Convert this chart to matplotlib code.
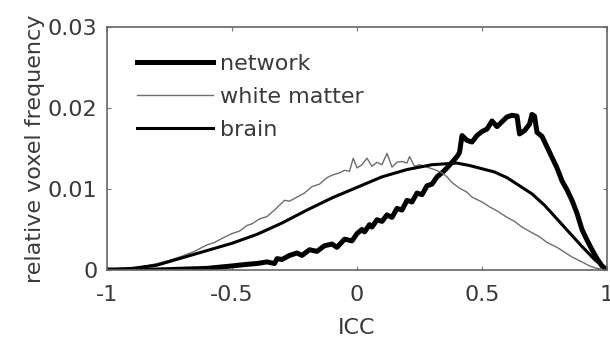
import matplotlib
matplotlib.use("Agg")
import matplotlib.pyplot as plt

# ICC histogram data
net_icc = [-1.00, -0.90, -0.80, -0.70, -0.60, -0.50, -0.44, -0.40, -0.36, -0.33,
           -0.32, -0.30, -0.27, -0.24, -0.22, -0.19, -0.16, -0.13, -0.10, -0.08,
           -0.05, -0.02, 0.00, 0.02, 0.03, 0.05, 0.06, 0.08, 0.10, 0.12,
           0.14, 0.16, 0.18, 0.20, 0.22, 0.24, 0.26, 0.28, 0.30, 0.32,
           0.34, 0.36, 0.38, 0.40, 0.41, 0.42, 0.44, 0.46, 0.48, 0.50,
           0.52, 0.54, 0.56, 0.58, 0.60, 0.62, 0.64, 0.65, 0.67, 0.69,
           0.70, 0.71, 0.72, 0.74, 0.76, 0.78, 0.80, 0.82, 0.84, 0.86,
           0.88, 0.90, 0.92, 0.94, 0.96, 0.98, 1.00]
net_freq = [0.0000, 0.0000, 0.0000, 0.0001, 0.0002, 0.0005, 0.0007, 0.0008, 0.0010, 0.0008,
            0.0014, 0.0013, 0.0018, 0.0021, 0.0018, 0.0025, 0.0023, 0.0030, 0.0032, 0.0028,
            0.0038, 0.0036, 0.0045, 0.0050, 0.0047, 0.0056, 0.0053, 0.0062, 0.0060, 0.0068,
            0.0065, 0.0076, 0.0074, 0.0086, 0.0084, 0.0095, 0.0093, 0.0104, 0.0106, 0.0115,
            0.0120, 0.0126, 0.0133, 0.0140, 0.0145, 0.0166, 0.0160, 0.0158, 0.0166, 0.0171,
            0.0174, 0.0184, 0.0177, 0.0183, 0.0189, 0.0191, 0.0190, 0.0168, 0.0172, 0.0180,
            0.0192, 0.0190, 0.0170, 0.0165, 0.0152, 0.0139, 0.0126, 0.0110, 0.0099, 0.0086,
            0.0070, 0.0050, 0.0037, 0.0025, 0.0014, 0.0005, 0.0000]

wm_icc = [-1.00, -0.90, -0.80, -0.75, -0.70, -0.65, -0.60, -0.57, -0.54, -0.50,
          -0.47, -0.44, -0.42, -0.39, -0.36, -0.33, -0.31, -0.29, -0.27, -0.24,
          -0.21, -0.18, -0.15, -0.12, -0.10, -0.07, -0.05, -0.03, -0.015, 0.00,
          0.02, 0.04, 0.06, 0.08, 0.10, 0.12, 0.14, 0.16, 0.18, 0.20,
          0.21, 0.23, 0.25, 0.27, 0.29, 0.31, 0.34, 0.36, 0.38, 0.41,
          0.44, 0.46, 0.50, 0.53, 0.56, 0.60, 0.63, 0.66, 0.70, 0.73,
          0.76, 0.80, 0.83, 0.86, 0.90, 0.93, 0.96, 1.00]
wm_freq = [0.0000, 0.0001, 0.0008, 0.0012, 0.0017, 0.0023, 0.0031, 0.0034, 0.0039, 0.0045,
           0.0048, 0.0055, 0.0057, 0.0063, 0.0066, 0.0074, 0.0080, 0.0086, 0.0085, 0.0090,
           0.0095, 0.0103, 0.0106, 0.0114, 0.0117, 0.0120, 0.0123, 0.0122, 0.0138, 0.0126,
           0.0130, 0.0138, 0.0128, 0.0133, 0.0130, 0.0144, 0.0127, 0.0133, 0.0134, 0.0132,
           0.0140, 0.0128, 0.0130, 0.0128, 0.0126, 0.0124, 0.0120, 0.0115, 0.0108, 0.0101,
           0.0096, 0.0090, 0.0084, 0.0078, 0.0073, 0.0065, 0.0060, 0.0053, 0.0046, 0.0041,
           0.0034, 0.0028, 0.0022, 0.0016, 0.0010, 0.0005, 0.0002, 0.0000]

brain_icc = [-1.00, -0.90, -0.80, -0.70, -0.60, -0.50, -0.40, -0.30, -0.20, -0.10,
             0.00, 0.10, 0.20, 0.30, 0.35, 0.40, 0.45, 0.50, 0.55, 0.60,
             0.65, 0.70, 0.75, 0.80, 0.85, 0.90, 0.95, 1.00]
brain_freq = [0.0000, 0.0002, 0.0006, 0.0015, 0.0024, 0.0033, 0.0044, 0.0058, 0.0074, 0.0089,
              0.0102, 0.0115, 0.0124, 0.0130, 0.0131, 0.0132, 0.0129, 0.0125, 0.0121, 0.0114,
              0.0104, 0.0094, 0.0080, 0.0063, 0.0046, 0.0029, 0.0013, 0.0000]

xticks = [-1, -0.5, 0, 0.5, 1]
xticklabels = ["-1", "-0.5", "0", "0.5", "1"]
yticks = [0, 0.01, 0.02, 0.03]
yticklabels = ["0", "0.01", "0.02", "0.03"]

TEXT = "#3a3a3a"
plt.rcParams["font.family"] = "DejaVu Sans"
plt.rcParams["font.size"] = 16

fig = plt.figure(figsize=(6.10, 3.38), dpi=100)
ax = fig.add_axes([107 / 610, 1 - 270 / 338, 500 / 610, 243 / 338])

ax.plot(net_icc, net_freq, color="black", lw=3.6, label="network")
ax.plot(wm_icc, wm_freq, color="#6e6e6e", lw=1.0, label="white matter")
ax.plot(brain_icc, brain_freq, color="black", lw=2.2, label="brain")

ax.set_xlim(-1, 1)
ax.set_ylim(0, 0.03)
ax.set_xticks(xticks)
ax.set_xticklabels(xticklabels)
ax.set_yticks(yticks)
ax.set_yticklabels(yticklabels)

ax.tick_params(direction="in", top=True, right=True, length=3, width=0.8,
               color="#777777", labelcolor=TEXT)
ax.tick_params(axis="x", pad=11)
ax.tick_params(axis="y", pad=7)
for sp in ax.spines.values():
    sp.set_color("#666666")
    sp.set_linewidth(1.2)

ax.set_xlabel("ICC", color=TEXT, labelpad=9)
ax.set_ylabel("relative voxel frequency", color=TEXT, labelpad=2)

leg = ax.legend(loc="upper left", bbox_to_anchor=(0.06, 0.89), frameon=False,
                borderaxespad=0, borderpad=0, handlelength=3.4,
                handletextpad=0.35, labelspacing=0.58)
for t in leg.get_texts():
    t.set_color(TEXT)

fig.savefig("out.png", dpi=100)
